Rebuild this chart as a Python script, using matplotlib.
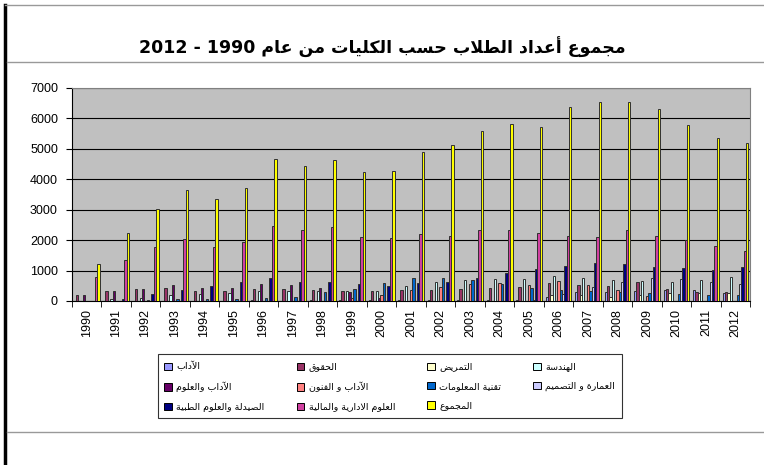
import numpy as np
import matplotlib
matplotlib.use("Agg")
import matplotlib.pyplot as plt
from matplotlib.lines import Line2D
from matplotlib.patches import Patch

# years and series (students per college)
years = [str(y) for y in range(1990, 2013)]

adab = [0, 0, 0, 0, 0, 0, 40, 0, 20, 20, 20, 20, 30, 20, 30, 30, 120, 290, 310, 340, 370, 350, 250]
huquq = [200, 330, 400, 430, 330, 330, 380, 380, 370, 330, 320, 350, 360, 380, 440, 450, 580, 510, 480, 620, 410, 300, 310]
tamreed = [0, 0, 0, 0, 0, 0, 0, 0, 0, 0, 0, 0, 0, 0, 0, 0, 200, 200, 120, 190, 250, 270, 270]
handasa = [0, 60, 110, 200, 220, 260, 330, 330, 320, 330, 340, 490, 640, 680, 730, 730, 810, 770, 700, 650, 620, 680, 790]
adab_uloom = [200, 330, 400, 530, 420, 420, 560, 530, 440, 310, 90, 0, 0, 0, 0, 0, 0, 0, 0, 0, 0, 0, 0]
adab_funoon = [0, 0, 0, 0, 0, 0, 0, 0, 0, 90, 200, 350, 450, 550, 590, 540, 650, 510, 360, 180, 0, 0, 0]
taqniya = [0, 0, 30, 50, 80, 80, 100, 120, 310, 400, 590, 770, 740, 680, 570, 420, 370, 340, 300, 250, 220, 200, 190]
imara = [0, 0, 0, 0, 0, 0, 0, 0, 0, 0, 0, 0, 0, 0, 0, 20, 220, 470, 630, 740, 730, 620, 560]
saydala = [0, 80, 220, 370, 500, 630, 760, 630, 620, 550, 490, 600, 640, 740, 930, 1040, 1150, 1240, 1220, 1110, 1070, 1010, 1110]
idariya = [780, 1350, 1770, 2030, 1780, 1950, 2460, 2330, 2420, 2110, 2070, 2200, 2150, 2330, 2330, 2250, 2130, 2100, 2330, 2150, 1990, 1820, 1650]
majmoo = [1230, 2230, 3020, 3650, 3350, 3720, 4660, 4430, 4640, 4230, 4260, 4880, 5140, 5580, 5800, 5710, 6370, 6540, 6550, 6310, 5790, 5350, 5200]

names = ["الآداب", "الحقوق", "التمريض", "الهندسة", "الآداب والعلوم", "الآداب و الفنون",
         "تقنية المعلومات", "العمارة و التصميم", "الصيدلة والعلوم الطبية",
         "العلوم الادارية والمالية", "المجموع"]
series = [adab, huquq, tamreed, handasa, adab_uloom, adab_funoon, taqniya, imara, saydala, idariya, majmoo]
colors = ["#9999FF", "#993366", "#FFFFCC", "#CCFFFF", "#660066", "#FF8080",
          "#0066CC", "#CCCCFF", "#000080", "#D040A0", "#FFFF00"]

title_ar = "مجموع أعداد الطلاب حسب الكليات من عام"

# matplotlib has no arabic shaping, so pick presentation forms by hand
FORMS = {
    "\u0622": ("\uFE81", "\uFE82", None, None),
    "\u0623": ("\uFE83", "\uFE84", None, None),
    "\u0627": ("\uFE8D", "\uFE8E", None, None),
    "\u0628": ("\uFE8F", "\uFE90", "\uFE91", "\uFE92"),
    "\u0629": ("\uFE93", "\uFE94", None, None),
    "\u062A": ("\uFE95", "\uFE96", "\uFE97", "\uFE98"),
    "\u062C": ("\uFE9D", "\uFE9E", "\uFE9F", "\uFEA0"),
    "\u062D": ("\uFEA1", "\uFEA2", "\uFEA3", "\uFEA4"),
    "\u062F": ("\uFEA9", "\uFEAA", None, None),
    "\u0631": ("\uFEAD", "\uFEAE", None, None),
    "\u0633": ("\uFEB1", "\uFEB2", "\uFEB3", "\uFEB4"),
    "\u0635": ("\uFEB9", "\uFEBA", "\uFEBB", "\uFEBC"),
    "\u0636": ("\uFEBD", "\uFEBE", "\uFEBF", "\uFEC0"),
    "\u0637": ("\uFEC1", "\uFEC2", "\uFEC3", "\uFEC4"),
    "\u0639": ("\uFEC9", "\uFECA", "\uFECB", "\uFECC"),
    "\u0641": ("\uFED1", "\uFED2", "\uFED3", "\uFED4"),
    "\u0642": ("\uFED5", "\uFED6", "\uFED7", "\uFED8"),
    "\u0643": ("\uFED9", "\uFEDA", "\uFEDB", "\uFEDC"),
    "\u0644": ("\uFEDD", "\uFEDE", "\uFEDF", "\uFEE0"),
    "\u0645": ("\uFEE1", "\uFEE2", "\uFEE3", "\uFEE4"),
    "\u0646": ("\uFEE5", "\uFEE6", "\uFEE7", "\uFEE8"),
    "\u0647": ("\uFEE9", "\uFEEA", "\uFEEB", "\uFEEC"),
    "\u0648": ("\uFEED", "\uFEEE", None, None),
    "\u064A": ("\uFEF1", "\uFEF2", "\uFEF3", "\uFEF4"),
}
LAM_ALEF = {"\u0622": ("\uFEF5", "\uFEF6"), "\u0623": ("\uFEF7", "\uFEF8"),
            "\u0627": ("\uFEFB", "\uFEFC")}


def shape(text):
    out = []
    prev_joins = False
    i = 0
    while i < len(text):
        c = text[i]
        if c not in FORMS:
            out.append(c)
            prev_joins = False
            i += 1
            continue
        nxt = text[i + 1] if i + 1 < len(text) else ""
        if c == "\u0644" and nxt in LAM_ALEF:
            out.append(LAM_ALEF[nxt][1 if prev_joins else 0])
            prev_joins = False
            i += 2
            continue
        iso, fin, ini, med = FORMS[c]
        joins_next = ini is not None and nxt in FORMS
        if prev_joins and joins_next:
            g = med
        elif prev_joins:
            g = fin
        elif joins_next:
            g = ini
        else:
            g = iso
        out.append(g)
        prev_joins = joins_next
        i += 1
    return "".join(out)[::-1]


fig = plt.figure(figsize=(7.64, 4.65), dpi=100)
ax = fig.add_axes([0.094, 0.3527, 0.888, 0.4581])
ax.set_facecolor("#C0C0C0")

x = np.arange(len(years))
n = len(series)
w = 1 / 12.5
for k, (vals, col) in enumerate(zip(series, colors)):
    ax.bar(x + (k - (n - 1) / 2) * w, vals, width=w, color=col,
           edgecolor="#303030", linewidth=0.7, zorder=3)

ax.set_xlim(-0.5, len(years) - 0.5)
ax.set_ylim(0, 7000)
ax.set_yticks(range(0, 7001, 1000))
ax.yaxis.grid(True, color="black", linewidth=0.8, zorder=1)
ax.set_axisbelow(True)
ax.set_xticks(x)
ax.set_xticklabels(years, rotation=90, fontsize=9, family="Liberation Sans")
ax.set_xticks(np.arange(-0.5, len(years), 1), minor=True)
ax.tick_params(axis="x", which="major", length=0, pad=6)
ax.tick_params(axis="x", which="minor", length=4, direction="out", color="black")
ax.tick_params(axis="y", length=4, direction="out", labelsize=9, pad=6)
for lab in ax.get_yticklabels():
    lab.set_family("Liberation Sans")
for side in ["top", "right"]:
    ax.spines[side].set_color("#808080")
ax.spines["left"].set_color("black")
ax.spines["bottom"].set_color("black")

fig.text(0.5, 0.898, "2012 - 1990 " + shape(title_ar), ha="center", va="center",
         fontsize=12.5, fontweight="bold", family="DejaVu Sans")

# frame lines around the chart
fig.add_artist(Line2D([0.007, 0.007], [0, 0.99], color="black", linewidth=2.5))
fig.add_artist(Line2D([0.007, 1], [0.99, 0.99], color="#999999", linewidth=1))
fig.add_artist(Line2D([0.009, 1], [0.867, 0.867], color="#999999", linewidth=1))
fig.add_artist(Line2D([0.009, 1], [0.072, 0.072], color="#999999", linewidth=1))

order = [0, 4, 8, 1, 5, 9, 2, 6, 10, 3, 7]
handles = [Patch(facecolor=colors[i], edgecolor="black", linewidth=0.7) for i in order]
labels = [shape(names[i]) for i in order]
leg = fig.legend(handles, labels, loc="center", ncol=4, mode="expand",
                 bbox_to_anchor=(0.2, 0.097, 0.62, 0.144),
                 prop={"family": "DejaVu Sans", "size": 6.8},
                 handlelength=0.8, handleheight=0.8, handletextpad=0.5,
                 labelspacing=1.1, borderpad=0.7, fancybox=False)
leg.get_frame().set_edgecolor("black")
leg.get_frame().set_linewidth(0.8)

fig.savefig("out.png", dpi=100)
